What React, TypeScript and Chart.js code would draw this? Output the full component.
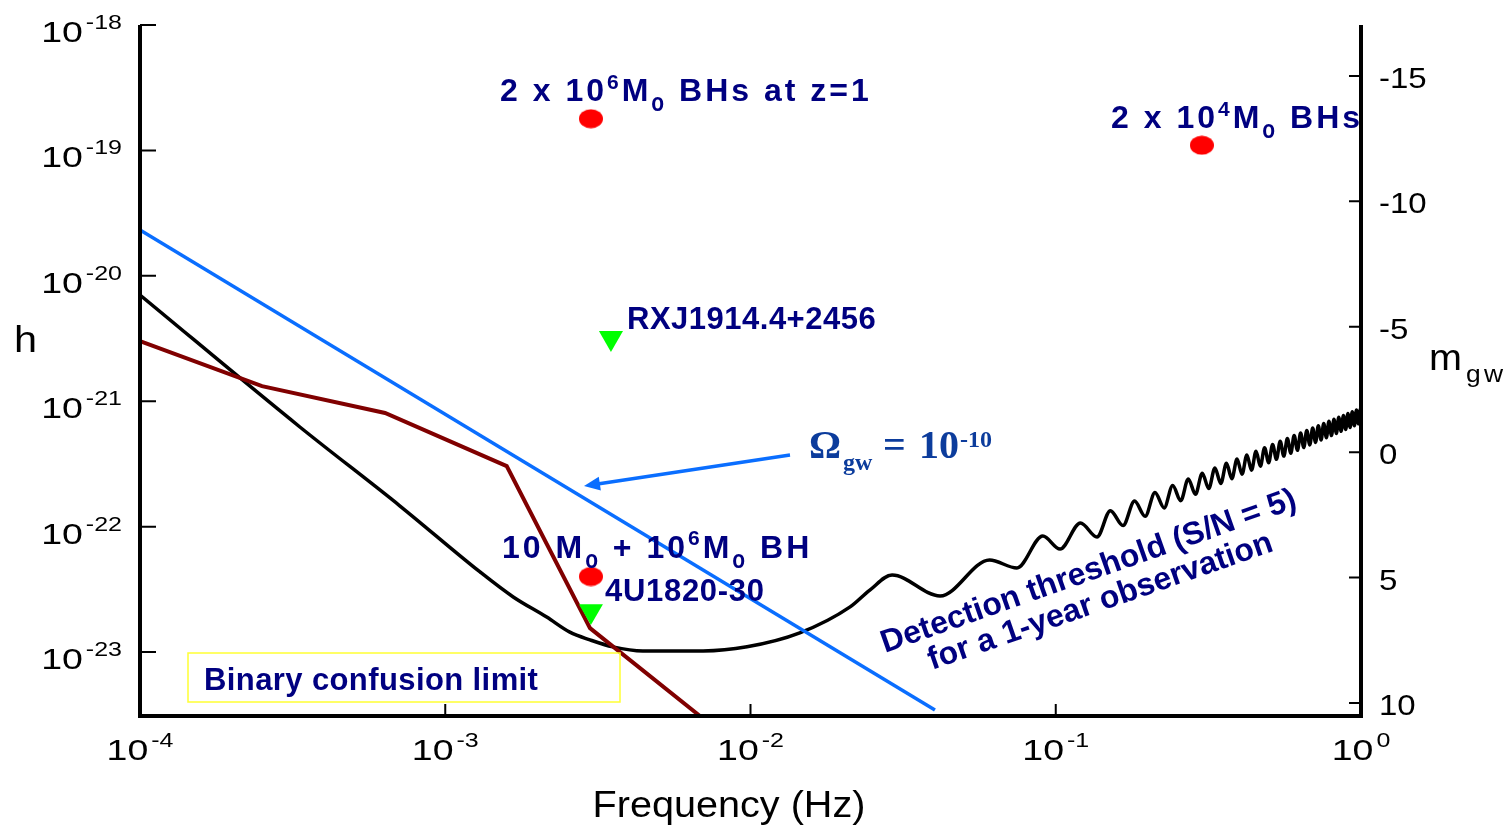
import React, { useEffect, useRef } from 'react';
import { Chart, registerables } from 'chart.js';
Chart.register(...registerables);

// ---------- data ----------
const fMin = 1e-4;
const fMax = 1;
const hMin = 3.09e-24;
const hMax = 1e-18;
const magTop = -17.03;
const magBottom = 10.52;

const hTickExponents = [-18, -19, -20, -21, -22, -23];
const fTickExponents = [-4, -3, -2, -1, 0];
const magTicks = [-15, -10, -5, 0, 5, 10];

// detection threshold (S/N = 5, 1 year)
const thresholdFreq = [
  1e-4, 3.34e-4, 7.11e-4, 1.3e-3, 1.67e-3, 2.15e-3, 2.56e-3, 2.98e-3, 3.54e-3, 4.44e-3,
  6.99e-3, 9.74e-3, 1.45e-2, 2.12e-2, 2.46e-2, 0.0291, 0.0418, 0.0607, 0.0746, 0.0907,
  0.1033, 0.1205, 0.1365, 0.151, 0.1661, 0.1812, 0.1963, 0.2114, 0.2265, 0.2416,
  0.2567, 0.2718, 0.2869, 0.302, 0.3171, 0.3322, 0.3473, 0.3624, 0.3775, 0.3926,
  0.4077, 0.4228, 0.4379, 0.453, 0.4681, 0.4832, 0.4983, 0.5134, 0.5285, 0.5436,
  0.5587, 0.5738, 0.5889, 0.604, 0.6191, 0.6342, 0.6493, 0.6644, 0.6795, 0.6946,
  0.7097, 0.7248, 0.7399, 0.755, 0.7701, 0.7852, 0.8003, 0.8154, 0.8305, 0.8456,
  0.8607, 0.8758, 0.8909, 0.906, 0.9211, 0.9362, 0.9513, 0.9664, 0.9815, 0.9966, 1.0,
];
const thresholdH = [
  7.03e-21, 6.23e-22, 1.46e-22, 4.35e-23, 2.75e-23, 1.9e-23, 1.44e-23, 1.25e-23, 1.1e-23, 1.02e-23,
  1.02e-23, 1.1e-23, 1.42e-23, 2.29e-23, 3.12e-23, 4.11e-23, 2.8e-23, 5.42e-23, 4.68e-23, 8.41e-23,
  6.62e-23, 1.07e-22, 8.26e-23, 1.34e-22, 1.02e-22, 1.6e-22, 1.21e-22, 1.87e-22, 1.41e-22, 2.13e-22,
  1.61e-22, 2.4e-22, 1.81e-22, 2.67e-22, 2.01e-22, 2.93e-22, 2.21e-22, 3.2e-22, 2.41e-22, 3.46e-22,
  2.62e-22, 3.73e-22, 2.82e-22, 3.99e-22, 3.03e-22, 4.26e-22, 3.23e-22, 4.52e-22, 3.44e-22, 4.79e-22,
  3.65e-22, 5.05e-22, 3.85e-22, 5.32e-22, 4.06e-22, 5.58e-22, 4.27e-22, 5.85e-22, 4.48e-22, 6.11e-22,
  4.69e-22, 6.38e-22, 4.9e-22, 6.64e-22, 5.11e-22, 6.91e-22, 5.32e-22, 7.17e-22, 5.53e-22, 7.44e-22,
  5.75e-22, 7.7e-22, 5.96e-22, 7.97e-22, 6.17e-22, 8.23e-22, 6.38e-22, 8.5e-22, 6.6e-22, 8.76e-22, 8.6e-22,
];

// Omega_gw = 1e-10 line
const omegaFreq = [1e-4, 0.0402];
const omegaH = [2.32e-20, 3.45e-24];

// binary confusion limit
const confusionFreq = [1e-4, 2.51e-4, 6.35e-4, 1.59e-3, 2.98e-3, 6.83e-3];
const confusionH = [3.02e-21, 1.32e-21, 8.05e-22, 3.04e-22, 1.55e-23, 3.09e-24];

// black-hole sources (red)
const bhFreq = [0.003, 0.301, 0.003];
const bhH = [1.79e-19, 1.1e-19, 4.0e-23];

// known binaries (green)
const binaryFreq = [0.00349, 0.003];
const binaryH = [3.19e-21, 2.12e-23];

// ---------- drawing helpers ----------
const SANS = "'Liberation Sans', Arial, sans-serif";
const SERIF = "'Liberation Serif', 'Times New Roman', serif";
const NAVY = '#000080';
const BLUE = '#0A6EFF';

type Seg = { t: string; size: number; dy?: number; sy?: number };

function drawText(
  ctx: CanvasRenderingContext2D, s: string, x: number, y: number, font: string, color: string,
  o: { sx?: number; sy?: number; align?: CanvasTextAlign; ls?: number; rot?: number } = {}
) {
  const { sx = 1, sy = 1, align = 'left', ls = 0, rot = 0 } = o;
  ctx.save();
  ctx.translate(x, y);
  if (rot) ctx.rotate((rot * Math.PI) / 180);
  ctx.scale(sx, sy);
  ctx.font = font;
  ctx.fillStyle = color;
  ctx.textAlign = align;
  ctx.textBaseline = 'alphabetic';
  (ctx as any).letterSpacing = ls + 'px';
  ctx.fillText(s, 0, 0);
  ctx.restore();
}

function measure(ctx: CanvasRenderingContext2D, s: string, font: string) {
  ctx.save();
  ctx.font = font;
  (ctx as any).letterSpacing = '0px';
  const w = ctx.measureText(s).width;
  ctx.restore();
  return w;
}

function flow(ctx: CanvasRenderingContext2D, x: number, y: number, segs: Seg[], ls: number, color: string, weight = 'bold') {
  let cx = x;
  for (const sg of segs) {
    const font = `${weight} ${sg.size}px ${SANS}`;
    drawText(ctx, sg.t, cx, y + (sg.dy || 0), font, color, { ls, sy: sg.sy || 1 });
    cx += measure(ctx, sg.t, font) + ls * sg.t.length;
  }
}

function pow10Label(
  ctx: CanvasRenderingContext2D, exp: string, x: number, y: number, align: 'left' | 'right' | 'center',
  sx: number, baseSize: number, expSize: number, expRaise: number
) {
  const bf = `${baseSize}px ${SANS}`;
  const ef = `${expSize}px ${SANS}`;
  const wb = measure(ctx, '10', bf) * sx;
  const we = measure(ctx, exp, ef) * sx;
  const gap = 3;
  const total = wb + gap + we;
  let start = x;
  if (align === 'right') start = x - total;
  if (align === 'center') start = x - total / 2;
  drawText(ctx, '10', start, y, bf, '#000', { sx });
  drawText(ctx, exp, start + wb + gap, y - expRaise, ef, '#000', { sx });
}

const overlayPlugin = {
  id: 'overlay',
  afterDatasetsDraw(chart: any) {
    const { ctx, chartArea } = chart;
    const { left, right, top, bottom } = chartArea;
    const xs = chart.scales.x;
    const ys = chart.scales.y;
    const ms = chart.scales.y2;
    ctx.save();

    // axes frame (left, bottom, right)
    ctx.strokeStyle = '#000';
    ctx.lineWidth = 4;
    ctx.lineJoin = 'miter';
    ctx.beginPath();
    ctx.moveTo(left, top);
    ctx.lineTo(left, bottom);
    ctx.lineTo(right, bottom);
    ctx.lineTo(right, top);
    ctx.stroke();

    // ticks
    ctx.lineWidth = 2;
    ctx.beginPath();
    for (const e of hTickExponents) {
      const py = ys.getPixelForValue(Math.pow(10, e));
      ctx.moveTo(left, py);
      ctx.lineTo(left + 16, py);
    }
    for (const e of fTickExponents) {
      const px = xs.getPixelForValue(Math.pow(10, e));
      if (px <= left + 1 || px >= right - 1) continue;
      ctx.moveTo(px, bottom);
      ctx.lineTo(px, bottom - 12);
    }
    for (const m of magTicks) {
      const py = ms.getPixelForValue(m);
      ctx.moveTo(right, py);
      ctx.lineTo(right - 12, py);
    }
    ctx.stroke();

    // tick labels
    for (const e of hTickExponents) {
      const py = ys.getPixelForValue(Math.pow(10, e));
      pow10Label(ctx, String(e), 122, py + 17, 'right', 1.25, 30, 20, 13);
    }
    for (const e of fTickExponents) {
      const px = xs.getPixelForValue(Math.pow(10, e));
      pow10Label(ctx, String(e), px, 760, 'center', 1.25, 30, 20, 13);
    }
    for (const m of magTicks) {
      const py = ms.getPixelForValue(m);
      drawText(ctx, String(m), 1379, py + 12, `30px ${SANS}`, '#000', { sx: 1.1 });
    }

    // axis titles
    drawText(ctx, 'Frequency (Hz)', 729, 817, `36px ${SANS}`, '#000', { sx: 1.1, align: 'center' });
    drawText(ctx, 'h', 14, 352, `36px ${SANS}`, '#000', { sx: 1.15 });
    drawText(ctx, 'm', 1429, 370, `36px ${SANS}`, '#000', { sx: 1.1 });
    drawText(ctx, 'gw', 1466, 382, `24px ${SANS}`, '#000', { sx: 1.1, ls: 3 });

    // arrow to the Omega line
    const ax0 = 790, ay0 = 455, ax1 = 584, ay1 = 486;
    const dx = ax1 - ax0, dy = ay1 - ay0;
    const len = Math.hypot(dx, dy);
    const ux = dx / len, uy = dy / len;
    ctx.strokeStyle = BLUE;
    ctx.fillStyle = BLUE;
    ctx.lineWidth = 3.5;
    ctx.beginPath();
    ctx.moveTo(ax0, ay0);
    ctx.lineTo(ax1 - ux * 12, ay1 - uy * 12);
    ctx.stroke();
    ctx.beginPath();
    ctx.moveTo(ax1, ay1);
    ctx.lineTo(ax1 - ux * 16 - uy * 7, ay1 - uy * 16 + ux * 7);
    ctx.lineTo(ax1 - ux * 16 + uy * 7, ay1 - uy * 16 - ux * 7);
    ctx.closePath();
    ctx.fill();

    // Omega_gw label
    const OC = '#0C3C9C';
    drawText(ctx, 'Ω', 809, 458, `bold 40px ${SERIF}`, OC);
    drawText(ctx, 'gw', 843, 470, `bold 24px ${SERIF}`, OC);
    drawText(ctx, '=', 883, 458, `bold 40px ${SERIF}`, OC);
    drawText(ctx, '10', 919, 458, `bold 40px ${SERIF}`, OC);
    drawText(ctx, '-10', 960, 447, `bold 24px ${SERIF}`, OC);

    // source labels
    flow(ctx, 500, 101, [
      { t: '2 x 10', size: 32 },
      { t: '6', size: 21, dy: -12 },
      { t: 'M', size: 32 },
      { t: 'o', size: 21, dy: 10, sy: 1.2 },
      { t: ' BHs at z=1', size: 32 },
    ], 3, NAVY);
    flow(ctx, 1111, 128, [
      { t: '2 x 10', size: 32 },
      { t: '4', size: 21, dy: -12 },
      { t: 'M', size: 32 },
      { t: 'o', size: 21, dy: 10, sy: 1.2 },
      { t: ' BHs', size: 32 },
    ], 3, NAVY);
    flow(ctx, 502, 558, [
      { t: '10 M', size: 32 },
      { t: 'o', size: 21, dy: 10, sy: 1.2 },
      { t: ' + 10', size: 32 },
      { t: '6', size: 21, dy: -13 },
      { t: 'M', size: 32 },
      { t: 'o', size: 21, dy: 10, sy: 1.2 },
      { t: ' BH', size: 32 },
    ], 3, NAVY);
    drawText(ctx, 'RXJ1914.4+2456', 627, 329, `bold 31px ${SANS}`, NAVY, { ls: 0.5 });
    drawText(ctx, '4U1820-30', 605, 601, `bold 31px ${SANS}`, NAVY, { ls: 0.7 });

    // binary confusion limit box
    ctx.strokeStyle = '#FFFF33';
    ctx.lineWidth = 1.5;
    ctx.strokeRect(188, 653, 432, 49);
    drawText(ctx, 'Binary confusion limit', 204, 690, `bold 31px ${SANS}`, NAVY, { ls: 0.4 });

    // rotated threshold caption
    drawText(ctx, 'Detection threshold (S/N = 5)', 885, 653, `bold 32px ${SANS}`, NAVY, { rot: -19.4 });
    drawText(ctx, 'for a 1-year observation', 932, 670, `bold 32px ${SANS}`, NAVY, { rot: -19.2 });

    ctx.restore();
  },
};

export default function App() {
  const ref = useRef<HTMLCanvasElement>(null);
  useEffect(() => {
    const canvas = ref.current!;
    const ell = document.createElement('canvas');
    ell.width = 24;
    ell.height = 20;
    const ec = ell.getContext('2d')!;
    ec.fillStyle = '#FF0000';
    ec.beginPath();
    ec.ellipse(12, 10, 12, 9.5, 0, 0, Math.PI * 2);
    ec.fill();

    const pts = (fs: number[], hs: number[]) => fs.map((f, i) => ({ x: f, y: hs[i] }));

    const chart = new Chart(canvas, {
      type: 'scatter',
      data: {
        datasets: [
          {
            label: 'Black-hole binaries',
            data: pts(bhFreq, bhH),
            pointStyle: ell as any,
            pointRadius: 12,
            showLine: false,
          },
          {
            label: 'Known binaries',
            data: pts(binaryFreq, binaryH),
            pointStyle: 'triangle',
            rotation: 180,
            pointRadius: 13.9,
            backgroundColor: '#00FF00',
            borderWidth: 0,
            showLine: false,
          },
          {
            label: 'Omega_gw = 1e-10',
            data: pts(omegaFreq, omegaH),
            showLine: true,
            borderColor: BLUE,
            borderWidth: 3.5,
            pointRadius: 0,
            tension: 0,
          },
          {
            label: 'Binary confusion limit',
            data: pts(confusionFreq, confusionH),
            showLine: true,
            borderColor: '#800000',
            borderWidth: 4,
            pointRadius: 0,
            tension: 0,
          },
          {
            label: 'Detection threshold',
            data: pts(thresholdFreq, thresholdH),
            showLine: true,
            borderColor: '#000000',
            borderWidth: 3.5,
            pointRadius: 0,
            cubicInterpolationMode: 'monotone',
          },
        ] as any,
      },
      options: {
        animation: false,
        responsive: false,
        devicePixelRatio: 1,
        events: [],
        layout: { padding: { left: 140, right: 148, top: 25, bottom: 112 } },
        plugins: { legend: { display: false }, tooltip: { enabled: false }, title: { display: false } },
        scales: {
          x: { type: 'logarithmic', min: fMin, max: fMax, display: false },
          y: { type: 'logarithmic', min: hMin, max: hMax, display: false },
          y2: { type: 'linear', min: magTop, max: magBottom, reverse: true, display: false, position: 'right' },
        },
      } as any,
      plugins: [overlayPlugin],
    });
    return () => chart.destroy();
  }, []);

  return (
    <div style={{ position: 'fixed', left: 0, top: 0, width: 1509, height: 828, background: '#fff' }}>
      <canvas ref={ref} width={1509} height={828} style={{ display: 'block' }} />
    </div>
  );
}
